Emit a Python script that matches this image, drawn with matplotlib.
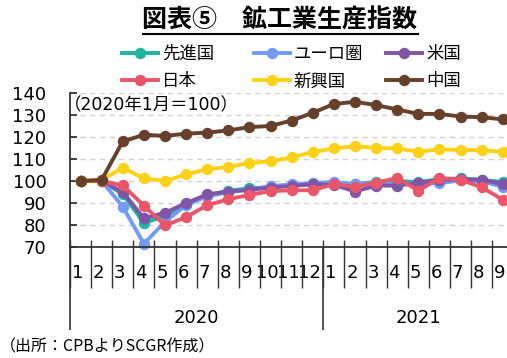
import numpy as np
import matplotlib.pyplot as plt
import matplotlib.transforms as mtransforms
from matplotlib.lines import Line2D

# 日本語はNoto、数字はDejaVu
plt.rcParams['font.family'] = ['DejaVu Sans', 'Noto Sans CJK JP']

# 月ラベル（2020年1月～2021年9月）
months = [1, 2, 3, 4, 5, 6, 7, 8, 9, 10, 11, 12, 1, 2, 3, 4, 5, 6, 7, 8, 9]
years = ['2020', '2021']
year_len = [12, 9]

# 鉱工業生産指数（2020年1月＝100）
senshinkoku = [100, 100, 94, 81, 84, 89.5, 93.5, 95.5, 96.7, 97.2, 98, 98.6,
               99, 98.6, 99.6, 100, 99.5, 100.8, 101.2, 100.5, 99.5]
euro = [100, 100, 88.3, 71.5, 81.5, 89, 93, 95, 96, 97.6, 98.5, 99,
        99.6, 98.5, 99.2, 98.5, 99, 99, 100.3, 99.8, 97.4]
beikoku = [100, 100, 95, 83, 85.6, 89.9, 93.9, 95.2, 96, 97, 97.8, 98.5,
           98.3, 95.2, 97.9, 97.9, 99.2, 100.5, 100.8, 100.5, 98.6]
nihon = [100, 100, 98, 88.8, 79.8, 83.6, 89, 91.7, 93.7, 95.4, 95.8, 95.8,
         98.6, 97.4, 99.2, 101.4, 95.6, 101.4, 100.6, 97.1, 91.5]
shinkoukoku = [100, 100.5, 106, 101.2, 100, 103, 105.3, 106.4, 108.2, 109, 110.7, 113.2,
               114.8, 115.8, 115, 114.8, 113.3, 114.4, 114.1, 113.9, 113.3]
chugoku = [100, 100.5, 118, 121, 120.5, 121.5, 122, 123, 124.5, 125, 127.5, 131,
           135, 136, 134.5, 132.5, 130.5, 130.5, 129.3, 129, 128]

names = ['先進国', 'ユーロ圏', '米国', '日本', '新興国', '中国']
series = [senshinkoku, euro, beikoku, nihon, shinkoukoku, chugoku]
colors = ['#1fb3a0', '#739af5', '#8055a8', '#e9566a', '#fcd116', '#67402c']

W, H = 507, 358
fig = plt.figure(figsize=(W / 100, H / 100), dpi=100)
ax = fig.add_axes([70 / W, (H - 247) / H, 443.4 / W, 154 / H])

x = np.arange(len(months))
for name, vals, col in zip(names, series, colors):
    ax.plot(x, vals, color=col, lw=2.8, marker='o', ms=7.2, label=name, clip_on=False)

ax.set_xlim(-0.5, len(months) - 0.5)
ax.set_ylim(70, 140)
ax.set_yticks(np.arange(70, 141, 10))
ax.yaxis.grid(True, ls=(0, (4, 3)), color='#d3d3d3', lw=1)
ax.set_axisbelow(True)
for s in ['top', 'right']:
    ax.spines[s].set_visible(False)
for s in ['left', 'bottom']:
    ax.spines[s].set_color('#333333')
    ax.spines[s].set_linewidth(1.3)
ax.tick_params(axis='y', direction='in', length=5, width=1.3, color='#333333',
               pad=17, labelsize=13)
ax.set_xticks(x)
ax.set_xticklabels(months)
ax.tick_params(axis='x', length=0, pad=12, labelsize=13)
# 月ラベルを少し左へ
shift = mtransforms.ScaledTranslation(-3 / 100, 0, fig.dpi_scale_trans)
for lab in ax.get_xticklabels():
    lab.set_transform(lab.get_transform() + shift)

# 区切り線
trans = mtransforms.blended_transform_factory(ax.transData, ax.transAxes)
bounds = np.arange(len(months) + 1) - 0.5
ax.vlines(bounds, 7 / 154, -41 / 154, transform=trans, color='#333333', lw=1, clip_on=False)
ybounds = np.concatenate([[0], np.cumsum(year_len)]) - 0.5
ax.vlines(ybounds, 0, -83 / 154, transform=trans, color='#333333', lw=1.2, clip_on=False)
for i, yr in enumerate(years):
    cx = (ybounds[i] + ybounds[i + 1]) / 2
    ax.text(cx, -71 / 154, yr, transform=trans, ha='center', va='center', fontsize=13)

# 凡例（3列）
cols_x = [122, 254, 386]
for j in range(3):
    hs = []
    for k in (j, j + 3):
        hs.append(Line2D([], [], color=colors[k], lw=2.8, marker='o', ms=7.2, label=names[k]))
    fig.legend(handles=hs, loc='center left', bbox_to_anchor=(cols_x[j] / W, 1 - 67.5 / H),
               frameon=False, handlelength=2.1, handletextpad=0.2,
               borderpad=0, borderaxespad=0, labelspacing=0.55,
               prop={'family': 'Noto Sans CJK JP', 'size': 12.5})

fig.text(64 / W, 1 - 105 / H, '（2020年1月＝100）', fontsize=12.5, va='center')
fig.text(0 / W, 1 - 347 / H, '（出所：CPBよりSCGR作成）', fontsize=11.5, va='center',
         family='Noto Sans CJK JP')

title = fig.text(280 / W, 1 - 21 / H, '図表⑤　鉱工業生産指数', ha='center', va='center',
                 fontsize=18, fontweight='bold', family='Noto Sans CJK JP')
fig.canvas.draw()
bb = title.get_window_extent()
fig.add_artist(Line2D([bb.x0 / W, bb.x1 / W], [1 - 34 / H, 1 - 34 / H], color='black', lw=1.5))

fig.savefig('out.png', dpi=100)
